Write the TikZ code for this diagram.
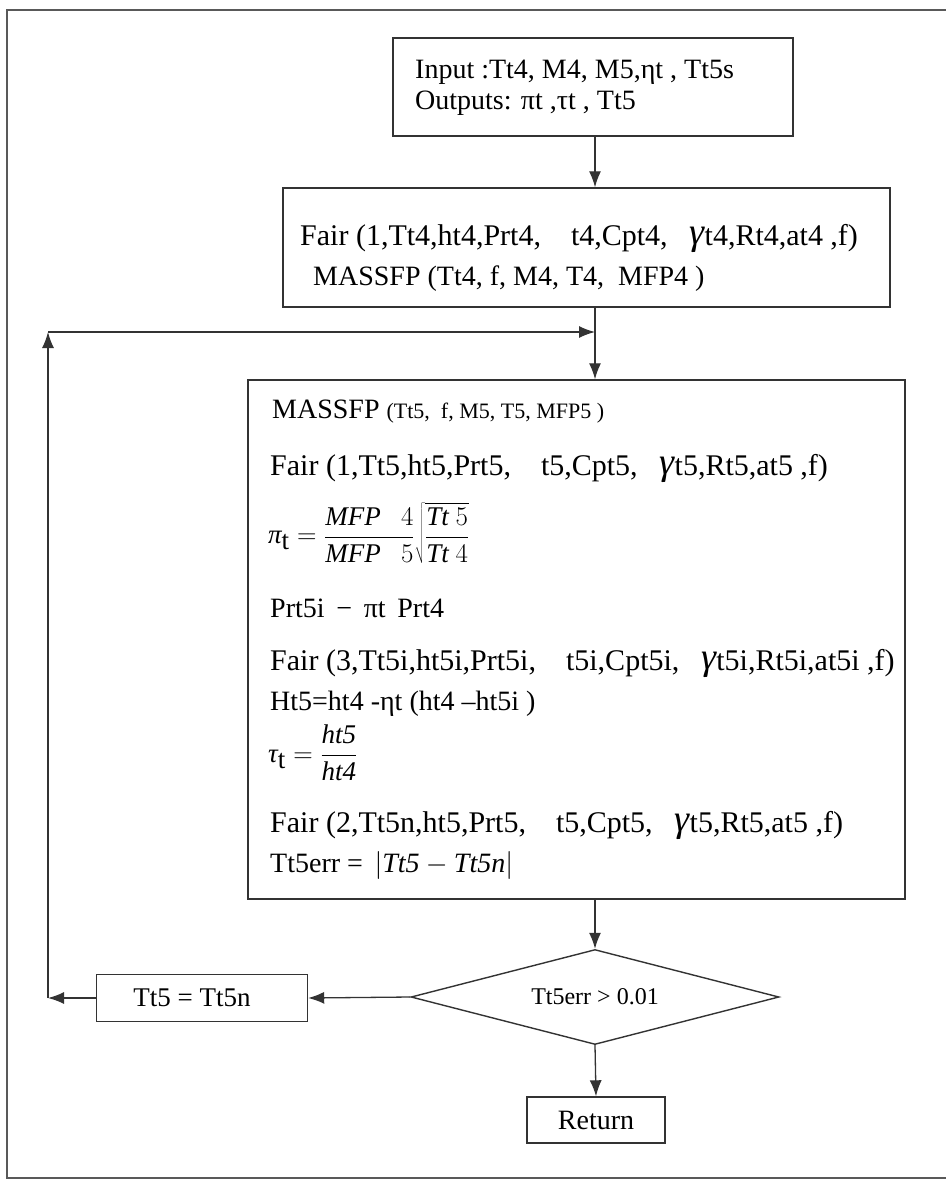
\RequirePackage{fix-cm}
\documentclass[tikz,border=0pt]{standalone}
\usepackage{fontspec}
\setmainfont{Liberation Serif}
\usetikzlibrary{arrows.meta,shapes.geometric}
\newcommand{\gam}{{\fontsize{38}{38}\selectfont\itshape\raisebox{1pt}{γ}}}
\newcommand{\gapa}{\hspace{30pt}}
\newcommand{\gapb}{\hspace{22pt}}
\begin{document}
\begin{tikzpicture}[x=1pt,y=-1pt,
 box/.style={draw=black!80,line width=1.4pt,inner sep=0pt},
 txt/.style={anchor=base west,inner sep=0pt,font=\fontsize{28}{32}\selectfont},
 fair/.style={anchor=base west,inner sep=0pt,font=\fontsize{30}{32}\selectfont},
 stxt/.style={anchor=base west,inner sep=0pt,font=\fontsize{21}{24}\selectfont},
 mtxt/.style={anchor=west,inner sep=0pt,font=\fontsize{27}{30}\selectfont},
 arr/.style={draw=black!80,line width=1.3pt,-{Latex[length=16pt,width=12pt]}}]
\useasboundingbox (0,0) rectangle (945,1183);
\draw[line width=1.2pt,black!65] (960,10) -- (7,10) -- (7,1178) -- (960,1178);
\coordinate (sp) at (595,0);
% boxes
\node[box,minimum width=400pt,minimum height=98pt] (b1) at (593,87) {};
\node[box,minimum width=607pt,minimum height=119pt] (b2) at (586.5,247.5) {};
\node[box,minimum width=657pt,minimum height=519pt] (b3) at (576.5,639.5) {};
\node[box,draw,diamond,aspect=3.87,minimum width=368pt,minimum height=95pt] (dia) at (595,997) {};
\node[box,minimum width=211pt,minimum height=47pt] (t5b) at (202,998) {};
\node[box,minimum width=138pt,minimum height=46pt] (ret) at (596,1120) {};
% texts box 1
\node[txt] (t1a) at (415,78) {Input :Tt4, M4, M5,ηt , Tt5s};
\node[txt] (t1b) at (415,109) {Outputs: πt ,τt , Tt5};
% box 2
\node[fair] (t2a) at (300,245) {Fair (1,Tt4,ht4,Prt4,\gapa t4,Cpt4,\gapb\gam t4,Rt4,at4 ,f)};
\node[txt] (t2b) at (313,285) {MASSFP (Tt4, f, M4, T4, \ MFP4 )};
% box 3
\node[txt] (t3a) at (272,418) {MASSFP {\fontsize{22}{24}\selectfont(Tt5, \ f, M5, T5, MFP5 )}};
\node[fair] (t3b) at (270,475) {Fair (1,Tt5,ht5,Prt5,\gapa t5,Cpt5,\gapb\gam t5,Rt5,at5 ,f)};
\node[mtxt] (t3c) at (268,533) {$\displaystyle \textit{π}_{\textrm{t}} = \frac{\textit{MFP}\ \ \ 4}{\textit{MFP}\ \ \ 5}\sqrt{\frac{\textit{Tt}\ 5}{\textit{Tt}\ 4}}$};
\node[txt] (t3d) at (270,617) {Prt5i \,−\, πt \,Prt4};
\node[fair] (t3e) at (270,670) {Fair (3,Tt5i,ht5i,Prt5i,\gapa t5i,Cpt5i,\gapb\gam t5i,Rt5i,at5i ,f)};
\node[txt] (t3f) at (270,710) {Ht5=ht4 -ηt (ht4 –ht5i )};
\node[mtxt] (t3g) at (268,753) {$\displaystyle \textit{τ}_{\textrm{t}} = \frac{\textit{ht5}}{\textit{ht4}}$};
\node[fair] (t3h) at (270,832) {Fair (2,Tt5n,ht5,Prt5,\gapa t5,Cpt5,\gapb\gam t5,Rt5,at5 ,f)};
\node[txt] (t3i) at (270,872) {Tt5err = \,$\left|\textit{Tt5}-\textit{Tt5n}\right|$};
% small texts
\node[stxt,anchor=center,font=\fontsize{24}{26}\selectfont] (dt) at (dia) {Tt5err > 0.01};
\node[stxt,anchor=center,font=\fontsize{27}{30}\selectfont] (tt) at (192,998) {Tt5 = Tt5n};
\node[stxt,anchor=center,font=\fontsize{28}{30}\selectfont] (rt) at (ret) {Return};
% connectors
\coordinate (c1) at (48,998);
\coordinate (c2) at (48,332);
\coordinate (j) at (595,332);
\draw[arr] (b1.south -| sp) -- (b2.north -| sp);
\draw[arr] (b2.south -| sp) -- (b3.north -| sp);
\draw[arr] (b3.south -| sp) -- (dia.north);
\draw[arr] (dia.south) -- (ret.north);
\draw[arr] (dia.west) -- (t5b.east);
\draw[arr] (t5b.west) -- (c1);
\draw[arr] (c1) -- (c2);
\draw[arr] (c2) -- (j);
\end{tikzpicture}
\end{document}
